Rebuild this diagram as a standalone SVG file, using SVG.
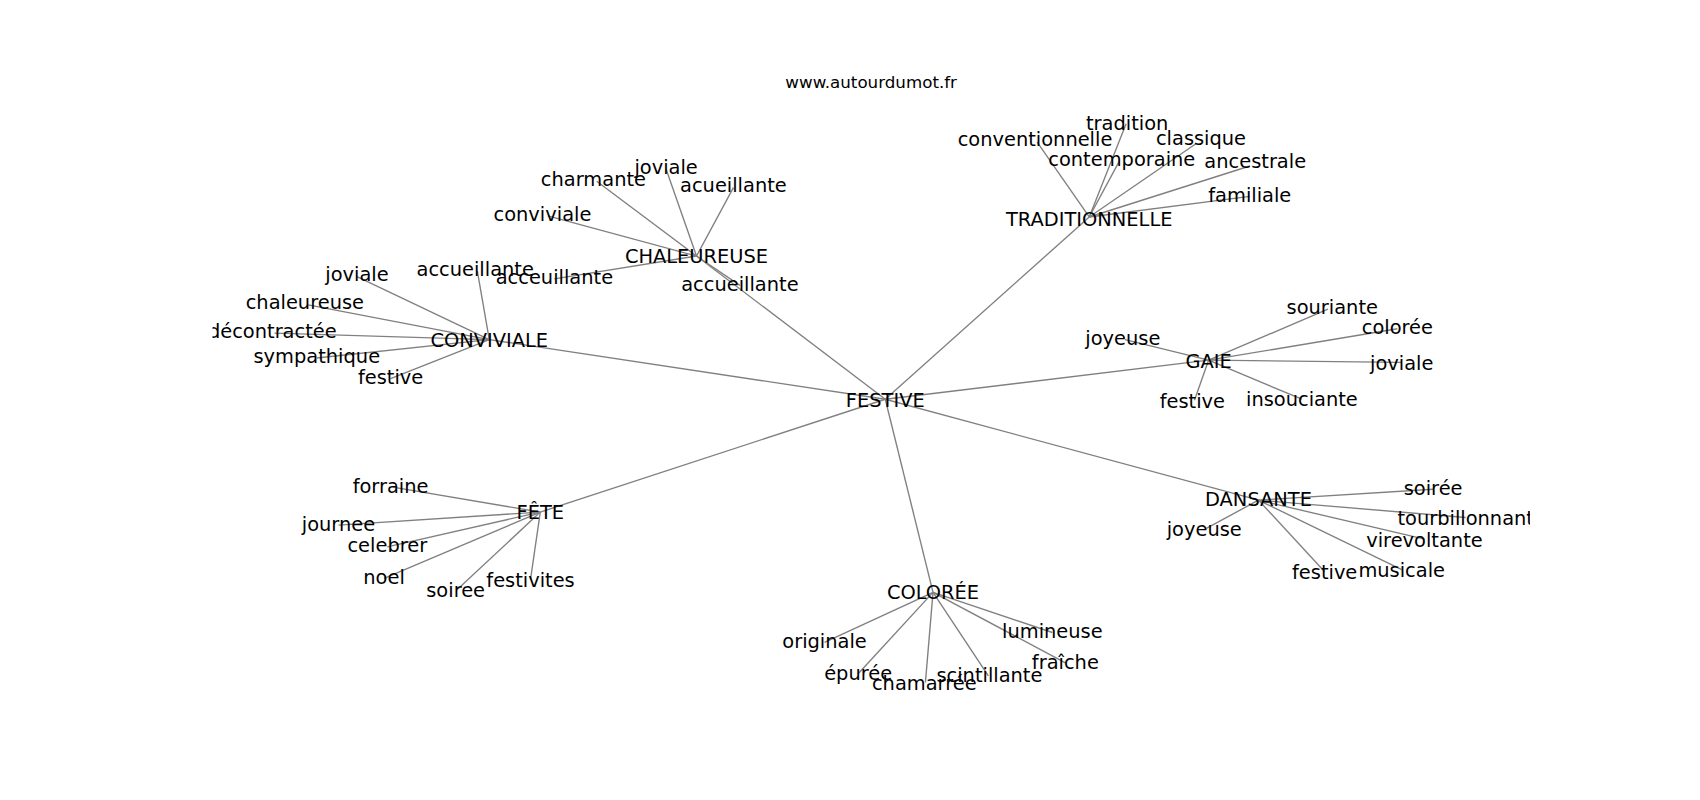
<svg xmlns="http://www.w3.org/2000/svg" width="1700" height="800" viewBox="0 0 1700 800">
<style>
  .edge { stroke: #808080; stroke-width: 1.25; fill: none; }
  .lbl { font-family: "DejaVu Sans", "Liberation Sans", sans-serif; font-size: 17.9px; fill: #000; text-anchor: middle; }
  .title { font-family: "DejaVu Sans", "Liberation Sans", sans-serif; font-size: 15.4px; fill: #000; text-anchor: middle; }
</style>
<defs>
  <clipPath id="axes"><rect x="195.9" y="88.5" width="1214.4" height="567.8"/></clipPath>
</defs>
<rect width="1700" height="800" fill="#fff"/>
<g transform="scale(1.0849)">
  <text class="title" x="803" y="81">www.autourdumot.fr</text>
  <g clip-path="url(#axes)">
    <g id="connectors">
      <line class="edge" x1="816" y1="368" x2="642" y2="236"/>
      <line class="edge" x1="816" y1="368" x2="451" y2="313"/>
      <line class="edge" x1="816" y1="368" x2="1004" y2="200"/>
      <line class="edge" x1="816" y1="368" x2="1114" y2="332"/>
      <line class="edge" x1="816" y1="368" x2="1160" y2="461"/>
      <line class="edge" x1="816" y1="368" x2="860" y2="546"/>
      <line class="edge" x1="816" y1="368" x2="498" y2="472"/>
      <!-- CHALEUREUSE -->
      <line class="edge" x1="642" y1="236" x2="614" y2="156"/>
      <line class="edge" x1="642" y1="236" x2="550" y2="167"/>
      <line class="edge" x1="642" y1="236" x2="676" y2="173"/>
      <line class="edge" x1="642" y1="236" x2="505" y2="199"/>
      <line class="edge" x1="642" y1="236" x2="511" y2="257"/>
      <line class="edge" x1="642" y1="236" x2="682" y2="263"/>
      <!-- CONVIVIALE -->
      <line class="edge" x1="451" y1="313" x2="329" y2="255"/>
      <line class="edge" x1="451" y1="313" x2="440" y2="250"/>
      <line class="edge" x1="451" y1="313" x2="284" y2="281"/>
      <line class="edge" x1="451" y1="313" x2="253" y2="307"/>
      <line class="edge" x1="451" y1="313" x2="292" y2="330"/>
      <line class="edge" x1="451" y1="313" x2="360" y2="349"/>
      <!-- TRADITIONNELLE -->
      <line class="edge" x1="1004" y1="200" x2="956" y2="131"/>
      <line class="edge" x1="1004" y1="200" x2="1038" y2="114"/>
      <line class="edge" x1="1004" y1="200" x2="1103" y2="132"/>
      <line class="edge" x1="1004" y1="200" x2="1032" y2="148"/>
      <line class="edge" x1="1004" y1="200" x2="1152" y2="153"/>
      <line class="edge" x1="1004" y1="200" x2="1152" y2="181"/>
      <!-- GAIE -->
      <line class="edge" x1="1114" y1="332" x2="1037" y2="313"/>
      <line class="edge" x1="1114" y1="332" x2="1224" y2="285"/>
      <line class="edge" x1="1114" y1="332" x2="1288" y2="303"/>
      <line class="edge" x1="1114" y1="332" x2="1292" y2="334"/>
      <line class="edge" x1="1114" y1="332" x2="1101" y2="369"/>
      <line class="edge" x1="1114" y1="332" x2="1200" y2="368"/>
      <!-- DANSANTE -->
      <line class="edge" x1="1160" y1="461" x2="1321" y2="451"/>
      <line class="edge" x1="1160" y1="461" x2="1351" y2="477"/>
      <line class="edge" x1="1160" y1="461" x2="1313" y2="497"/>
      <line class="edge" x1="1160" y1="461" x2="1112" y2="487"/>
      <line class="edge" x1="1160" y1="461" x2="1221" y2="527"/>
      <line class="edge" x1="1160" y1="461" x2="1292" y2="525"/>
      <!-- COLORÉE -->
      <line class="edge" x1="860" y1="546" x2="760" y2="592"/>
      <line class="edge" x1="860" y1="546" x2="791" y2="621"/>
      <line class="edge" x1="860" y1="546" x2="853" y2="629"/>
      <line class="edge" x1="860" y1="546" x2="911" y2="623"/>
      <line class="edge" x1="860" y1="546" x2="970" y2="583"/>
      <line class="edge" x1="860" y1="546" x2="982" y2="611"/>
      <!-- FÊTE -->
      <line class="edge" x1="498" y1="472" x2="362" y2="449"/>
      <line class="edge" x1="498" y1="472" x2="312" y2="484"/>
      <line class="edge" x1="498" y1="472" x2="357" y2="504"/>
      <line class="edge" x1="498" y1="472" x2="354" y2="533"/>
      <line class="edge" x1="498" y1="472" x2="422" y2="543"/>
      <line class="edge" x1="498" y1="472" x2="489" y2="534"/>
    </g>
    <g id="festive"><text class="lbl" x="816" y="375">FESTIVE</text></g>
    <g id="chaleureuse"><text class="lbl" x="642" y="242">CHALEUREUSE</text></g>
    <g id="conviviale"><text class="lbl" x="451" y="320">CONVIVIALE</text></g>
    <g id="traditionnelle"><text class="lbl" x="1004" y="208">TRADITIONNELLE</text></g>
    <g id="gaie"><text class="lbl" x="1114" y="339">GAIE</text></g>
    <g id="dansante"><text class="lbl" x="1160" y="466">DANSANTE</text></g>
    <g id="coloree"><text class="lbl" x="860" y="552">COLORÉE</text></g>
    <g id="fete"><text class="lbl" x="498" y="478">FÊTE</text></g>

    <g id="chal-joviale"><text class="lbl" x="614" y="160">joviale</text></g>
    <g id="chal-charmante"><text class="lbl" x="547" y="171">charmante</text></g>
    <g id="chal-acueillante"><text class="lbl" x="676" y="177">acueillante</text></g>
    <g id="chal-conviviale"><text class="lbl" x="500" y="204">conviviale</text></g>
    <g id="chal-acceuillante"><text class="lbl" x="511" y="262">acceuillante</text></g>
    <g id="chal-accueillante"><text class="lbl" x="682" y="268">accueillante</text></g>

    <g id="conv-joviale"><text class="lbl" x="329" y="259">joviale</text></g>
    <g id="conv-accueillante"><text class="lbl" x="438" y="254">accueillante</text></g>
    <g id="conv-chaleureuse"><text class="lbl" x="281" y="285">chaleureuse</text></g>
    <g id="conv-decontractee"><text class="lbl" x="251" y="312">décontractée</text></g>
    <g id="conv-sympathique"><text class="lbl" x="292" y="335">sympathique</text></g>
    <g id="conv-festive"><text class="lbl" x="360" y="354">festive</text></g>

    <g id="trad-tradition"><text class="lbl" x="1039" y="120">tradition</text></g>
    <g id="trad-conventionnelle"><text class="lbl" x="954" y="135">conventionnelle</text></g>
    <g id="trad-classique"><text class="lbl" x="1107" y="134">classique</text></g>
    <g id="trad-contemporaine"><text class="lbl" x="1034" y="153">contemporaine</text></g>
    <g id="trad-ancestrale"><text class="lbl" x="1157" y="155">ancestrale</text></g>
    <g id="trad-familiale"><text class="lbl" x="1152" y="186">familiale</text></g>

    <g id="gaie-souriante"><text class="lbl" x="1228" y="289">souriante</text></g>
    <g id="gaie-coloree"><text class="lbl" x="1288" y="308">colorée</text></g>
    <g id="gaie-joviale"><text class="lbl" x="1292" y="341">joviale</text></g>
    <g id="gaie-joyeuse"><text class="lbl" x="1035" y="318">joyeuse</text></g>
    <g id="gaie-festive"><text class="lbl" x="1099" y="376">festive</text></g>
    <g id="gaie-insouciante"><text class="lbl" x="1200" y="374">insouciante</text></g>

    <g id="dans-soiree"><text class="lbl" x="1321" y="456">soirée</text></g>
    <g id="dans-tourbillonnant"><text class="lbl" x="1351" y="484">tourbillonnant</text></g>
    <g id="dans-virevoltante"><text class="lbl" x="1313" y="504">virevoltante</text></g>
    <g id="dans-joyeuse"><text class="lbl" x="1110" y="494">joyeuse</text></g>
    <g id="dans-festive"><text class="lbl" x="1221" y="534">festive</text></g>
    <g id="dans-musicale"><text class="lbl" x="1292" y="532">musicale</text></g>

    <g id="col-originale"><text class="lbl" x="760" y="597">originale</text></g>
    <g id="col-epuree"><text class="lbl" x="791" y="627">épurée</text></g>
    <g id="col-chamarree"><text class="lbl" x="852" y="636">chamarrée</text></g>
    <g id="col-scintillante"><text class="lbl" x="912" y="629">scintillante</text></g>
    <g id="col-lumineuse"><text class="lbl" x="970" y="588">lumineuse</text></g>
    <g id="col-fraiche"><text class="lbl" x="982" y="617">fraîche</text></g>

    <g id="fete-forraine"><text class="lbl" x="360" y="454">forraine</text></g>
    <g id="fete-journee"><text class="lbl" x="312" y="489">journee</text></g>
    <g id="fete-celebrer"><text class="lbl" x="357" y="509">celebrer</text></g>
    <g id="fete-noel"><text class="lbl" x="354" y="538">noel</text></g>
    <g id="fete-soiree"><text class="lbl" x="420" y="550">soiree</text></g>
    <g id="fete-festivites"><text class="lbl" x="489" y="541">festivites</text></g>
  </g>
</g>
</svg>
